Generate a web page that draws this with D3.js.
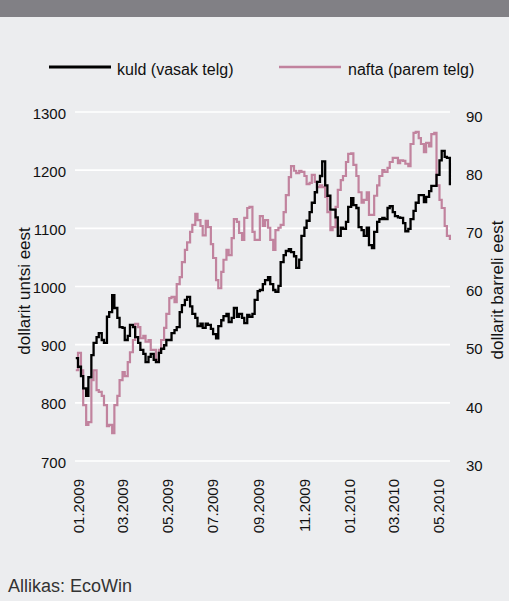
<!DOCTYPE html>
<html>
<head>
<meta charset="utf-8">
<script src="https://cdn.jsdelivr.net/npm/d3@7"></script>
<style>
  html, body { margin: 0; padding: 0; background: #ECEDEF; }
  svg { display: block; font-family: "Liberation Sans", Arial, Helvetica, sans-serif; }
</style>
</head>
<body>
<svg id="chart" width="509" height="601"></svg>
<script>
// ---- DATA (twice-weekly observations, Mon/Thu) ----
const dates = [
  "2008-12-29","2009-01-01","2009-01-05","2009-01-08","2009-01-12","2009-01-15","2009-01-19","2009-01-22","2009-01-26","2009-01-29",
  "2009-02-02","2009-02-05","2009-02-09","2009-02-12","2009-02-16","2009-02-19","2009-02-23","2009-02-26","2009-03-02","2009-03-05",
  "2009-03-09","2009-03-12","2009-03-16","2009-03-19","2009-03-23","2009-03-26","2009-03-30","2009-04-02","2009-04-06","2009-04-09",
  "2009-04-13","2009-04-16","2009-04-20","2009-04-23","2009-04-27","2009-04-30","2009-05-04","2009-05-07","2009-05-11","2009-05-14",
  "2009-05-18","2009-05-21","2009-05-25","2009-05-28","2009-06-01","2009-06-04","2009-06-08","2009-06-11","2009-06-15","2009-06-18",
  "2009-06-22","2009-06-25","2009-06-29","2009-07-02","2009-07-06","2009-07-09","2009-07-13","2009-07-16","2009-07-20","2009-07-23",
  "2009-07-27","2009-07-30","2009-08-03","2009-08-06","2009-08-10","2009-08-13","2009-08-17","2009-08-20","2009-08-24","2009-08-27",
  "2009-08-31","2009-09-03","2009-09-07","2009-09-10","2009-09-14","2009-09-17","2009-09-21","2009-09-24","2009-09-28","2009-10-01",
  "2009-10-05","2009-10-08","2009-10-12","2009-10-15","2009-10-19","2009-10-22","2009-10-26","2009-10-29","2009-11-02","2009-11-05",
  "2009-11-09","2009-11-12","2009-11-16","2009-11-19","2009-11-23","2009-11-26","2009-11-30","2009-12-03","2009-12-07","2009-12-10",
  "2009-12-14","2009-12-17","2009-12-21","2009-12-24","2009-12-28","2009-12-31","2010-01-04","2010-01-07","2010-01-11","2010-01-14",
  "2010-01-18","2010-01-21","2010-01-25","2010-01-28","2010-02-01","2010-02-04","2010-02-08","2010-02-11","2010-02-15","2010-02-18",
  "2010-02-22","2010-02-25","2010-03-01","2010-03-04","2010-03-08","2010-03-11","2010-03-15","2010-03-18","2010-03-22","2010-03-25",
  "2010-03-29","2010-04-01","2010-04-05","2010-04-08","2010-04-12","2010-04-15","2010-04-19","2010-04-22","2010-04-26","2010-04-29",
  "2010-05-03","2010-05-06","2010-05-10","2010-05-13","2010-05-17"
];
// gold, USD per ounce (left axis)
const gold = [
  877, 862, 846, 825, 812, 844, 882, 903, 913, 920,
  908, 903, 948, 956, 985, 963, 946, 930, 929, 908,
  915, 934, 930, 913, 903, 891, 884, 870, 879, 884,
  874, 870, 886, 893, 899, 908, 908, 920, 925, 930,
  956, 968, 977, 982, 966, 953, 946, 932, 936, 929,
  936, 934, 927, 918, 911, 932, 942, 949, 953, 939,
  946, 963, 948, 953, 946, 937, 951, 948, 953, 977,
  992, 994, 1004, 1011, 1016, 1004, 994, 991, 1001, 1042,
  1054, 1061, 1064, 1059, 1052, 1032, 1046, 1087, 1101, 1113,
  1128, 1144, 1162, 1180, 1190, 1215, 1174, 1156, 1132, 1132,
  1119, 1087, 1101, 1099, 1111, 1137, 1152, 1140, 1135, 1102,
  1097, 1087, 1101, 1071, 1066, 1094, 1111, 1116, 1118, 1116,
  1135, 1138, 1128, 1121, 1119, 1118, 1109, 1095, 1099, 1116,
  1130, 1144, 1157, 1157, 1145, 1154, 1164, 1173, 1173, 1192,
  1217, 1233, 1223, 1221, 1174
];
// crude oil, USD per barrel (right axis)
const oil = [
  45.6, 48.6, 45.6, 39.6, 36.2, 36.7, 43.9, 45.6, 42.2, 41.9,
  41.2, 39.6, 36.0, 36.2, 34.8, 39.6, 41.2, 43.9, 45.3, 44.6,
  47.0, 48.7, 50.8, 53.6, 53.0, 51.1, 51.5, 50.5, 50.8, 49.1,
  49.1, 47.4, 49.1, 50.8, 52.9, 55.3, 58.0, 58.2, 57.3, 60.4,
  61.6, 64.2, 66.3, 67.6, 69.4, 70.6, 72.5, 71.4, 70.4, 68.8,
  71.3, 70.2, 67.3, 64.9, 61.1, 59.7, 62.5, 64.6, 66.3, 65.4,
  68.3, 71.6, 71.1, 69.2, 68.0, 71.8, 73.5, 73.7, 69.4, 68.0,
  68.0, 72.1, 70.4, 71.4, 70.1, 68.0, 66.3, 69.7, 70.1, 70.6,
  72.8, 75.7, 78.8, 80.7, 79.9, 79.5, 79.9, 79.7, 79.0, 77.6,
  77.8, 79.2, 78.0, 77.1, 77.4, 77.1, 75.4, 72.8, 69.7, 70.2,
  73.7, 76.6, 78.3, 79.0, 81.4, 82.8, 82.9, 80.9, 79.0, 76.2,
  74.4, 74.9, 76.2, 72.3, 72.3, 75.6, 77.4, 79.0, 80.0, 79.7,
  80.4, 81.4, 82.1, 82.1, 81.2, 81.7, 81.6, 81.1, 80.7, 84.5,
  86.4, 86.6, 85.5, 84.5, 83.1, 84.7, 84.1, 86.2, 86.4, 77.4,
  74.9, 73.5, 70.4, 68.7, 68.0
];
const leftTicks = [700, 800, 900, 1000, 1100, 1200, 1300];
const rightTicks = [30, 40, 50, 60, 70, 80, 90];
const xTicks = ["2009-01-01","2009-03-01","2009-05-01","2009-07-01","2009-09-01","2009-11-01","2010-01-01","2010-03-01","2010-05-01"];
const seriesNames = ["kuld (vasak telg)", "nafta (parem telg)"];
const leftTitle = "dollarit untsi eest";
const rightTitle = "dollarit barreli eest";
const sourceText = "Allikas: EcoWin";

// ---- DRAW ----
const parse = d3.timeParse("%Y-%m-%d");
const svg = d3.select("#chart");
const W = 509, H = 601;
const plotL = 75, plotR = 450;
const GOLD = "#000000", OIL = "#C1839E";
const FONT = "Liberation Sans, Arial, sans-serif";

svg.append("rect").attr("x", 0).attr("y", 0).attr("width", W).attr("height", H).attr("fill", "#ECEDEF");
svg.append("rect").attr("x", 0).attr("y", 0).attr("width", W).attr("height", 17).attr("fill", "#818085");

const x = d3.scaleTime()
  .domain([parse("2009-01-01"), parse("2010-05-01")])
  .range([78, 438]);
const yL = d3.scaleLinear().domain([700, 1300]).range([461, 112]);
const yR = d3.scaleLinear().domain([30, 90]).range([461, 112]);

// gridlines
svg.append("g").selectAll("line").data(leftTicks).join("line")
  .attr("x1", plotL).attr("x2", plotR)
  .attr("y1", d => yL(d)).attr("y2", d => yL(d))
  .attr("stroke", "#FFFFFF").attr("stroke-width", 1.6);

// left axis
const axL = svg.append("g").attr("transform", "translate(66,0)")
  .call(d3.axisLeft(yL).tickValues(leftTicks).tickSize(0).tickPadding(0).tickFormat(d3.format("d")));
axL.select(".domain").remove();
axL.selectAll("text").attr("font-size", 15).attr("fill", "#111").attr("dy", "0.4em").attr("font-family", FONT);

// right axis
const axR = svg.append("g").attr("transform", "translate(466,0)")
  .call(d3.axisRight(yR).tickValues(rightTicks).tickSize(0).tickPadding(0).tickFormat(d3.format("d")));
axR.select(".domain").remove();
axR.selectAll("text").attr("font-size", 15).attr("fill", "#111").attr("dy", "0.62em").attr("font-family", FONT);

// bottom axis (rotated labels)
const axB = svg.append("g").attr("transform", "translate(0,471)")
  .call(d3.axisBottom(x).tickValues(xTicks.map(parse)).tickSize(0).tickPadding(0).tickFormat(d3.timeFormat("%m.%Y")));
axB.select(".domain").remove();
axB.selectAll("text")
  .attr("font-size", 15).attr("fill", "#111").attr("font-family", FONT)
  .attr("text-anchor", "end")
  .attr("transform", "rotate(-90)")
  .attr("x", -8).attr("y", 0).attr("dy", "0.36em");

// axis titles
svg.append("text").attr("transform", "translate(24,291) rotate(-90)")
  .attr("text-anchor", "middle").attr("dy", "0.35em")
  .attr("font-size", 17).attr("fill", "#111").text(leftTitle);
svg.append("text").attr("transform", "translate(497,290) rotate(-90)")
  .attr("text-anchor", "middle").attr("dy", "0.35em")
  .attr("font-size", 17).attr("fill", "#111").text(rightTitle);

// lines
const dGold = dates.map((d, i) => ({ t: parse(d), v: gold[i] }));
const dOil = dates.map((d, i) => ({ t: parse(d), v: oil[i] }));

svg.append("path").datum(dOil)
  .attr("fill", "none").attr("stroke", OIL).attr("stroke-width", 2.2)
  .attr("d", d3.line().curve(d3.curveStepAfter).x(d => x(d.t)).y(d => yR(d.v)));
svg.append("path").datum(dGold)
  .attr("fill", "none").attr("stroke", GOLD).attr("stroke-width", 2.3)
  .attr("d", d3.line().curve(d3.curveStepAfter).x(d => x(d.t)).y(d => yL(d.v)));

// legend
const legend = [
  { name: seriesNames[0], color: GOLD, x1: 49, x2: 111, tx: 117, w: 3 },
  { name: seriesNames[1], color: OIL, x1: 279, x2: 341, tx: 348, w: 2.5 }
];
const lg = svg.append("g");
lg.selectAll("line").data(legend).join("line")
  .attr("x1", d => d.x1).attr("x2", d => d.x2).attr("y1", 67).attr("y2", 67)
  .attr("stroke", d => d.color).attr("stroke-width", d => d.w);
lg.selectAll("text").data(legend).join("text")
  .attr("x", d => d.tx).attr("y", 75)
  .attr("font-size", 16).attr("fill", "#111").text(d => d.name);

// source
svg.append("text").attr("x", 8).attr("y", 592)
  .attr("font-size", 18).attr("fill", "#333").text(sourceText);
</script>
</body>
</html>
